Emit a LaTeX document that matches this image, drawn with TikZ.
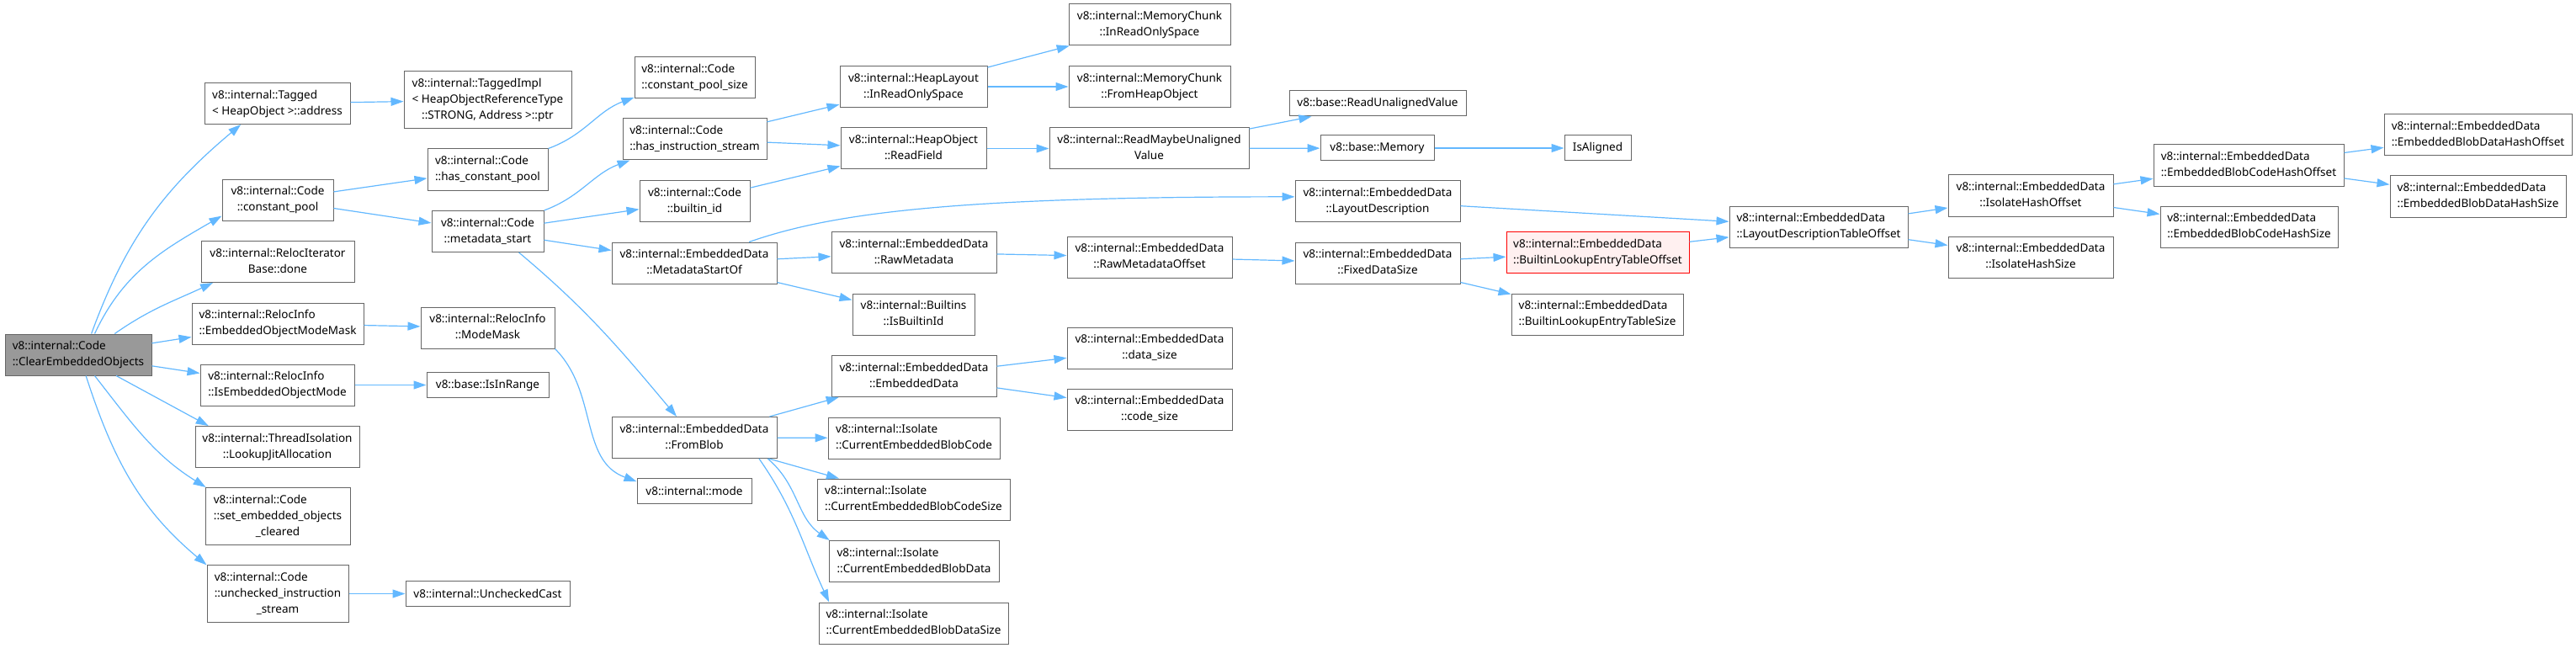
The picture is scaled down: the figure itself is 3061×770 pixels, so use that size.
\documentclass[tikz,border=0pt]{standalone}
\usepackage{fontspec}
\setmainfont{Noto Sans}
\usepackage{tikz}
\usetikzlibrary{arrows.meta}

\definecolor{edgeblue}{HTML}{63B8FF}
\definecolor{nodeborder}{HTML}{666666}
\definecolor{rootfill}{HTML}{999999}
\definecolor{hitfill}{HTML}{FFF0F0}

\newcommand{\fnfont}{\fontsize{13.5}{19}\selectfont}
% graphviz style labels: lines left aligned, last line centred
\newcommand{\twol}[2]{\begin{tabular}{@{}l@{}}#1\\\multicolumn{1}{@{}c@{}}{#2}\end{tabular}}
\newcommand{\threel}[3]{\begin{tabular}{@{}l@{}}#1\\#2\\\multicolumn{1}{@{}c@{}}{#3}\end{tabular}}

\tikzset{
  fn/.style={draw=nodeborder, fill=white, line width=1pt, inner sep=0pt, font=\fnfont},
  fnroot/.style={fn, fill=rootfill},
  fnhit/.style={fn, draw=red, fill=hitfill},
  lone/.style={minimum height=30pt},
  ltwo/.style={minimum height=49pt},
  lthree/.style={minimum height=68pt},
  call/.style={->, draw=edgeblue, line width=1.2pt}
}

\begin{document}
\begin{tikzpicture}[x=1pt, y=1pt, >={Triangle[length=15pt, width=10pt]}]
  \useasboundingbox (0,0) rectangle (3061,-770);
  % Caller
  \node[fnroot, ltwo, minimum width=174pt] (root) at (93,-421.5) {\twol{v8::internal::Code}{::ClearEmbeddedObjects}};
  % Direct callees
  \node[fn, ltwo, minimum width=173pt] (tagged) at (329.5,-123) {\twol{v8::internal::Tagged}{< HeapObject >::address}};
  \node[fn, ltwo, minimum width=132pt] (cpool) at (330,-237.5) {\twol{v8::internal::Code}{::constant\_pool}};
  \node[fn, ltwo, minimum width=182pt] (rdone) at (330,-311) {\twol{v8::internal::RelocIterator}{Base::done}};
  \node[fn, ltwo, minimum width=204pt] (emask) at (330,-384.5) {\twol{v8::internal::RelocInfo}{::EmbeddedObjectModeMask}};
  \node[fn, ltwo, minimum width=183pt] (isemode) at (329.5,-457.5) {\twol{v8::internal::RelocInfo}{::IsEmbeddedObjectMode}};
  \node[fn, ltwo, minimum width=195pt] (jit) at (329.5,-531) {\twol{v8::internal::ThreadIsolation}{::LookupJitAllocation}};
  \node[fn, lthree, minimum width=172pt] (setcleared) at (330,-613.5) {\threel{v8::internal::Code}{::set\_embedded\_objects}{\_cleared}};
  \node[fn, lthree, minimum width=168pt] (unchecked) at (330,-705.5) {\threel{v8::internal::Code}{::unchecked\_instruction}{\_stream}};
  % Second level
  \node[fn, lthree, minimum width=199pt] (taggedptr) at (579.5,-119) {\threel{v8::internal::TaggedImpl}{< HeapObjectReferenceType}{::STRONG, Address >::ptr}};
  \node[fn, ltwo, minimum width=143pt] (hascp) at (579.5,-201.5) {\twol{v8::internal::Code}{::has\_constant\_pool}};
  \node[fn, ltwo, minimum width=133pt] (mdstart) at (579.5,-275) {\twol{v8::internal::Code}{::metadata\_start}};
  \node[fn, ltwo, minimum width=159pt] (modemask) at (579.5,-389.5) {\twol{v8::internal::RelocInfo}{::ModeMask}};
  \node[fn, lone, minimum width=145pt] (inrange) at (579.5,-457.5) {v8::base::IsInRange};
  \node[fn, lone, minimum width=195pt] (ucast) at (579.5,-705.5) {v8::internal::UncheckedCast};
  % Third level
  \node[fn, ltwo, minimum width=143pt] (cpsize) at (825.5,-92.5) {\twol{v8::internal::Code}{::constant\_pool\_size}};
  \node[fn, ltwo, minimum width=171pt] (hasis) at (825.5,-165.5) {\twol{v8::internal::Code}{::has\_instruction\_stream}};
  \node[fn, ltwo, minimum width=131pt] (bid) at (825.5,-239) {\twol{v8::internal::Code}{::builtin\_id}};
  \node[fn, ltwo, minimum width=196pt] (mdsof) at (825,-312.5) {\twol{v8::internal::EmbeddedData}{::MetadataStartOf}};
  \node[fn, ltwo, minimum width=196pt] (fromblob) at (825,-520) {\twol{v8::internal::EmbeddedData}{::FromBlob}};
  \node[fn, lone, minimum width=136pt] (mode) at (825,-583) {v8::internal::mode};
  % Fourth level
  \node[fn, ltwo, minimum width=175pt] (hlros) at (1085.5,-103) {\twol{v8::internal::HeapLayout}{::InReadOnlySpace}};
  \node[fn, ltwo, minimum width=173pt] (readfield) at (1085.5,-176.5) {\twol{v8::internal::HeapObject}{::ReadField}};
  \node[fn, ltwo, minimum width=196pt] (rawmd) at (1086,-300) {\twol{v8::internal::EmbeddedData}{::RawMetadata}};
  \node[fn, ltwo, minimum width=145pt] (isbid) at (1085.5,-373.5) {\twol{v8::internal::Builtins}{::IsBuiltinId}};
  \node[fn, ltwo, minimum width=196pt] (edctor) at (1086,-447) {\twol{v8::internal::EmbeddedData}{::EmbeddedData}};
  \node[fn, ltwo, minimum width=204pt] (cebc) at (1086,-520.5) {\twol{v8::internal::Isolate}{::CurrentEmbeddedBlobCode}};
  \node[fn, ltwo, minimum width=229pt] (cebcs) at (1085.5,-593.5) {\twol{v8::internal::Isolate}{::CurrentEmbeddedBlobCodeSize}};
  \node[fn, ltwo, minimum width=202pt] (cebd) at (1086,-667) {\twol{v8::internal::Isolate}{::CurrentEmbeddedBlobData}};
  \node[fn, ltwo, minimum width=225pt] (cebds) at (1085.5,-740.5) {\twol{v8::internal::Isolate}{::CurrentEmbeddedBlobDataSize}};
  % Fifth level
  \node[fn, ltwo, minimum width=192pt] (mcros) at (1366,-29.5) {\twol{v8::internal::MemoryChunk}{::InReadOnlySpace}};
  \node[fn, ltwo, minimum width=192pt] (mcfho) at (1366,-103) {\twol{v8::internal::MemoryChunk}{::FromHeapObject}};
  \node[fn, ltwo, minimum width=237pt] (rmuv) at (1365.5,-176.5) {\twol{v8::internal::ReadMaybeUnaligned}{Value}};
  \node[fn, ltwo, minimum width=196pt] (rawmdoff) at (1366,-305.5) {\twol{v8::internal::EmbeddedData}{::RawMetadataOffset}};
  \node[fn, ltwo, minimum width=196pt] (datasize) at (1366,-413.5) {\twol{v8::internal::EmbeddedData}{::data\_size}};
  \node[fn, ltwo, minimum width=196pt] (codesize) at (1366,-486.5) {\twol{v8::internal::EmbeddedData}{::code\_size}};
  % Sixth and seventh level
  \node[fn, lone, minimum width=210pt] (rua) at (1637,-123) {v8::base::ReadUnalignedValue};
  \node[fn, lone, minimum width=135pt] (memory) at (1636.5,-176) {v8::base::Memory};
  \node[fn, ltwo, minimum width=196pt] (layoutdesc) at (1637,-239) {\twol{v8::internal::EmbeddedData}{::LayoutDescription}};
  \node[fn, ltwo, minimum width=196pt] (fixeddata) at (1637,-312.5) {\twol{v8::internal::EmbeddedData}{::FixedDataSize}};
  \node[fn, lone, minimum width=79pt] (isaligned) at (1898.5,-176) {IsAligned};
  \node[fnhit, ltwo, minimum width=217pt] (bleto) at (1898.5,-300) {\twol{v8::internal::EmbeddedData}{::BuiltinLookupEntryTableOffset}};
  \node[fn, ltwo, minimum width=204pt] (bletsize) at (1898,-373.5) {\twol{v8::internal::EmbeddedData}{::BuiltinLookupEntryTableSize}};
  % Hash offsets
  \node[fn, ltwo, minimum width=212pt] (ldto) at (2161,-269.5) {\twol{v8::internal::EmbeddedData}{::LayoutDescriptionTableOffset}};
  \node[fn, ltwo, minimum width=196pt] (iho) at (2413,-232.5) {\twol{v8::internal::EmbeddedData}{::IsolateHashOffset}};
  \node[fn, ltwo, minimum width=196pt] (ihs) at (2413,-305.5) {\twol{v8::internal::EmbeddedData}{::IsolateHashSize}};
  \node[fn, ltwo, minimum width=226pt] (ebcho) at (2672,-196.5) {\twol{v8::internal::EmbeddedData}{::EmbeddedBlobCodeHashOffset}};
  \node[fn, ltwo, minimum width=211pt] (ebchs) at (2672.5,-269.5) {\twol{v8::internal::EmbeddedData}{::EmbeddedBlobCodeHashSize}};
  \node[fn, ltwo, minimum width=223pt] (ebdho) at (2944.5,-160.5) {\twol{v8::internal::EmbeddedData}{::EmbeddedBlobDataHashOffset}};
  \node[fn, ltwo, minimum width=209pt] (ebdhs) at (2944.5,-233.5) {\twol{v8::internal::EmbeddedData}{::EmbeddedBlobDataHashSize}};

  % Calls from the caller
  \draw[call] (root.58) to[out=70, in=220] (tagged.210);
  \draw[call] (root.52) to[out=65, in=210] (cpool.196);
  \draw[call] (root.30) to[out=35, in=205] (rdone.198);
  \draw[call] (root) -- (emask);
  \draw[call] (root) -- (isemode);
  \draw[call] (root.-29) -- (jit.163);
  \draw[call] (root.-52) to[out=-52, in=148] (setcleared.158);
  \draw[call] (root.-70) to[out=-72, in=140] (unchecked.158);
  % Second level calls
  \draw[call] (tagged) -- (taggedptr);
  \draw[call] (cpool) -- (hascp);
  \draw[call] (cpool) -- (mdstart);
  \draw[call] (emask) -- (modemask);
  \draw[call] (isemode) -- (inrange);
  \draw[call] (unchecked) -- (ucast);
  \draw[call] (hascp.north east) to[out=20, in=200] (cpsize.198);
  \draw[call] (mdstart.north east) to[out=20, in=200] (hasis.198);
  \draw[call] (mdstart) -- (bid);
  \draw[call] (mdstart) -- (mdsof);
  \draw[call] (mdstart.-34) to[out=-40, in=130] (fromblob.130);
  \draw[call] (modemask.south east) to[out=-45, in=160] (mode.171);
  % Third level calls
  \draw[call] (hasis) -- (hlros);
  \draw[call] (hasis) -- (readfield);
  \draw[call] (bid) -- (readfield);
  \draw[call] (mdsof.21) .. controls +(100,35) and +(-400,0) .. (layoutdesc.177);
  \draw[call] (mdsof) -- (rawmd);
  \draw[call] (mdsof) -- (isbid);
  \draw[call] (fromblob) -- (edctor);
  \draw[call] (fromblob) -- (cebc);
  \draw[call] (fromblob) -- (cebcs);
  \draw[call] (fromblob.-16) to[out=-40, in=145] (cebd.166);
  \draw[call] (fromblob.-18) to[out=-55, in=115] (cebds.166);
  % Fourth level calls
  \draw[call] (hlros) -- (mcros);
  \draw[call] (hlros) -- (mcfho);
  \draw[call] (readfield) -- (rmuv);
  \draw[call] (rawmd) -- (rawmdoff);
  \draw[call] (edctor) -- (datasize);
  \draw[call] (edctor) -- (codesize);
  % Deeper calls
  \draw[call] (rmuv) -- (rua);
  \draw[call] (rmuv) -- (memory);
  \draw[call] (memory) -- (isaligned);
  \draw[call] (rawmdoff) -- (fixeddata);
  \draw[call] (fixeddata) -- (bleto);
  \draw[call] (fixeddata) -- (bletsize);
  \draw[call] (layoutdesc) -- (ldto);
  \draw[call] (bleto) -- (ldto);
  \draw[call] (ldto) -- (iho);
  \draw[call] (ldto) -- (ihs);
  \draw[call] (iho) -- (ebcho);
  \draw[call] (iho) -- (ebchs);
  \draw[call] (ebcho) -- (ebdho);
  \draw[call] (ebcho) -- (ebdhs);
\end{tikzpicture}
\end{document}
